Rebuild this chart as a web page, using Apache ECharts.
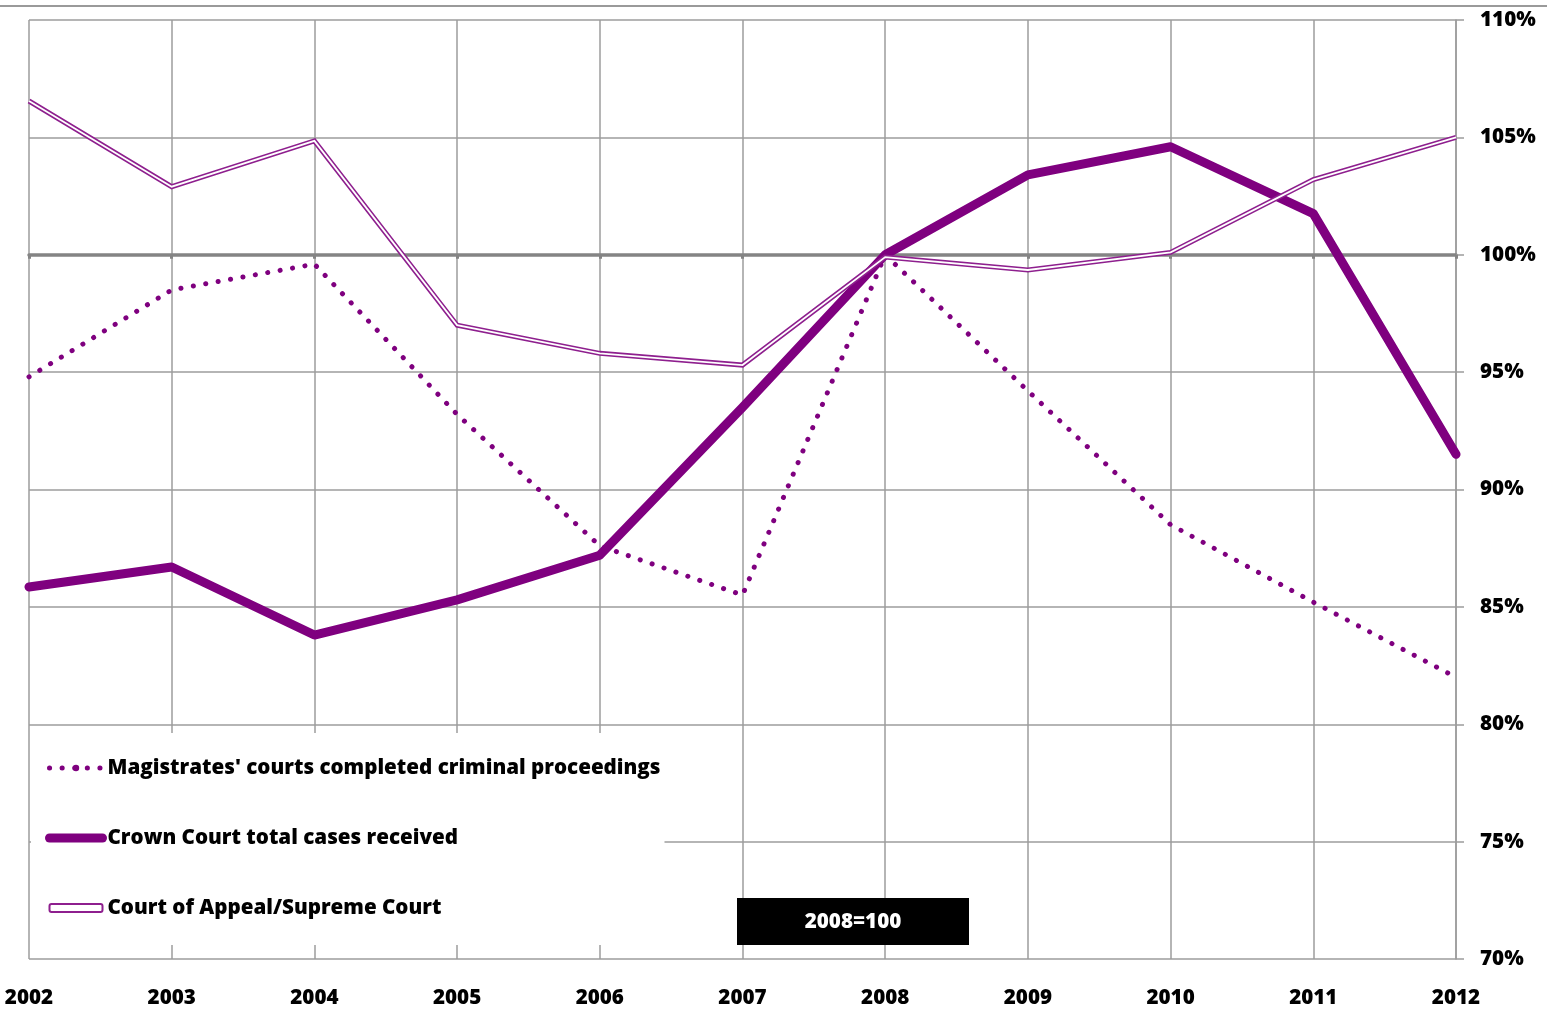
<!DOCTYPE html>
<html>
<head>
<meta charset="utf-8">
<title>Court activity index, 2002-2012</title>
<script src="https://cdn.jsdelivr.net/npm/echarts@6/dist/echarts.min.js"></script>
<style>
  html, body { margin: 0; padding: 0; background: #fff; }
  #chart { width: 1547px; height: 1023px; }
</style>
</head>
<body>
<div id="chart"></div>
<script>
// Index values (2008 = 100)
const years = ['2002', '2003', '2004', '2005', '2006', '2007', '2008', '2009', '2010', '2011', '2012'];
const magistrates = [94.8, 98.5, 99.6, 93.2, 87.6, 85.5, 100, 94.2, 88.5, 85.2, 82.0];
const crownCourt = [85.85, 86.7, 83.8, 85.3, 87.2, 93.5, 100, 103.4, 104.6, 101.75, 91.5];
const appealCourt = [106.55, 102.9, 104.85, 97.0, 95.8, 95.3, 99.9, 99.35, 100.1, 103.2, 105.0];

const seriesNames = [
  "Magistrates' courts completed criminal proceedings",
  'Crown Court total cases received',
  'Court of Appeal/Supreme Court'
];
const yMin = 70, yMax = 110, yStep = 5, baseLine = 100;
const baseNote = '2008=100';

const FONT = '"Open Sans", "Noto Sans", sans-serif';
const FONT_SIZE = 20.6;
const FONT_WEIGHT = 800;
const PURPLE = '#7f007f';
const PURPLE_LIGHT = '#8e1f8e';
const GRID = '#9c9c9c';

const chart = echarts.init(document.getElementById('chart'), null, { renderer: 'canvas' });

const option = {
  animation: false,
  backgroundColor: '#fff',
  grid: { left: 29, right: 91, top: 20, bottom: 64, outerBoundsMode: 'none' },
  xAxis: [
    {
      type: 'category',
      data: years,
      boundaryGap: false,
      position: 'bottom',
      axisLine: { show: false },
      axisTick: { show: false },
      axisLabel: { color: '#000', fontFamily: FONT, fontWeight: FONT_WEIGHT, fontSize: FONT_SIZE, margin: 29 },
      splitLine: { show: true, lineStyle: { color: GRID, width: 1.5 } }
    },
    {
      // reference line at the base year level, with its ticks
      type: 'category',
      data: years,
      boundaryGap: false,
      position: 'bottom',
      offset: 0,
      axisLine: { show: true, onZero: false, lineStyle: { color: '#848484', width: 3.5 } },
      axisTick: { show: true, inside: false, length: 4, lineStyle: { color: '#848484', width: 3 } },
      axisLabel: { show: false },
      splitLine: { show: false }
    }
  ],
  yAxis: {
    type: 'value',
    position: 'right',
    min: yMin,
    max: yMax,
    interval: yStep,
    axisLine: { show: true, lineStyle: { color: GRID, width: 1.5 } },
    axisTick: { show: true, inside: false, length: 8, lineStyle: { color: GRID, width: 1.5 } },
    axisLabel: {
      color: '#000', fontFamily: FONT, fontWeight: FONT_WEIGHT, fontSize: FONT_SIZE, margin: 24,
      formatter: v => v + '%'
    },
    splitLine: { show: true, lineStyle: { color: GRID, width: 1.5 } }
  },
  legend: {
    orient: 'vertical',
    left: 31,
    top: 733,
    backgroundColor: '#fff',
    padding: [23, 4, 25, 14],
    itemWidth: 53,
    itemHeight: 8,
    itemGap: 46,
    selectedMode: false,
    textStyle: {
      color: '#000', fontFamily: FONT, fontWeight: FONT_WEIGHT, fontSize: FONT_SIZE, lineHeight: 24
    },
    data: [
      { name: seriesNames[0], lineStyle: { width: 5 } },
      { name: seriesNames[1], lineStyle: { width: 9 } },
      { name: seriesNames[2], icon: 'roundRect',
        itemStyle: { color: '#fff', borderColor: PURPLE_LIGHT, borderWidth: 2 } }
    ]
  },
  series: [
    {
      name: seriesNames[0],
      type: 'line',
      data: magistrates,
      symbol: 'none',
      lineStyle: { color: PURPLE, width: 5, type: [0.1, 12.5], cap: 'round' },
      itemStyle: { color: PURPLE },
      emphasis: { disabled: true },
      z: 3
    },
    {
      name: seriesNames[1],
      type: 'line',
      data: crownCourt,
      symbol: 'none',
      lineStyle: { color: PURPLE, width: 9, cap: 'round', join: 'round' },
      itemStyle: { color: PURPLE },
      emphasis: { disabled: true },
      z: 4
    },
    {
      name: seriesNames[2],
      type: 'line',
      data: appealCourt,
      symbol: 'none',
      lineStyle: { color: PURPLE_LIGHT, width: 5, join: 'miter' },
      itemStyle: { color: PURPLE_LIGHT },
      emphasis: { disabled: true },
      z: 5
    },
    {
      // inner white stroke that turns the appeal line into a double line
      name: seriesNames[2],
      type: 'line',
      data: appealCourt,
      symbol: 'none',
      lineStyle: { color: '#fff', width: 1.8, join: 'miter' },
      itemStyle: { color: '#fff' },
      emphasis: { disabled: true },
      z: 6
    }
  ],
  graphic: [
    {
      type: 'line', z: 100,
      shape: { x1: 0, y1: 6, x2: 1547, y2: 6 },
      style: { stroke: '#9a9a9a', lineWidth: 2 }
    },
    {
      type: 'group', left: 737, top: 898, z: 100,
      children: [
        { type: 'rect', z: 100, shape: { x: 0, y: 0, width: 232, height: 47 }, style: { fill: '#000' } },
        { type: 'text', z: 101, x: 116, y: 24,
          style: { text: baseNote, fill: '#fff', fontFamily: FONT, fontWeight: FONT_WEIGHT, fontSize: FONT_SIZE,
                   align: 'center', verticalAlign: 'middle' } }
      ]
    }
  ]
};

chart.setOption(option);

// Move the second x axis up so it sits on the base-year value line
const yBase = chart.convertToPixel({ yAxisIndex: 0 }, baseLine);
const yBottom = chart.convertToPixel({ yAxisIndex: 0 }, yMin);
chart.setOption({ xAxis: [{}, { offset: yBase - yBottom }] });
</script>
</body>
</html>
